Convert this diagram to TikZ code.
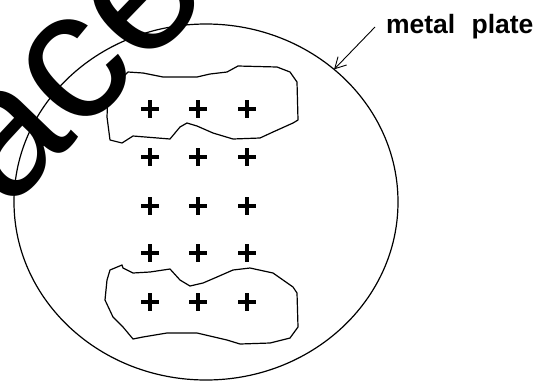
\documentclass[tikz,border=0pt]{standalone}
\usepackage{fontspec}
\setmainfont{Liberation Sans}
\usetikzlibrary{shapes.geometric,arrows.meta}
\tikzset{
  outline/.style={line width=1.2pt, black, line join=round},
  plusmark/.style={line width=3.5pt, black},
  wmark/.style={font=\fontsize{185}{185}\selectfont, inner sep=0pt, outer sep=0pt, rotate=46, anchor=base west},
  lbl/.style={font=\fontsize{26.5}{26.5}\selectfont\bfseries, inner sep=0pt, outer sep=0pt, anchor=base west}
}
\begin{document}
\begin{tikzpicture}[x=1pt,y=-1pt]
\useasboundingbox[fill=white] (0,0) rectangle (537,381);
% metal plate
\node[ellipse, draw, outline, minimum width=384pt, minimum height=356pt, inner sep=0pt, outer sep=0pt] (plate) at (206,202) {};
% upper charge region
\draw[outline] (128,72) -- (143,73) -- (163,77) -- (197,77) -- (210,74) -- (227,72) -- (238,66) -- (277,67) -- (290,72) -- (297,82) -- (298,120) -- (293,123) -- (273,132) -- (260,138) -- (233,139) -- (213,133) -- (197,126) -- (187,123) -- (180,127) -- (170,139) -- (133,136) -- (122,143) -- (110,140) -- (107,117) -- (108,92) -- (112,88) -- cycle;
% lower charge region
\draw[outline] (110,270) -- (122,265) -- (123,268) -- (133,273) -- (150,272) -- (170,269) -- (180,280) -- (190,286) -- (203,283) -- (217,277) -- (233,270) -- (250,268) -- (273,273) -- (293,287) -- (297,293) -- (298,327) -- (290,338) -- (270,343) -- (240,344) -- (227,340) -- (197,333) -- (167,333) -- (143,337) -- (133,339) -- (123,327) -- (113,317) -- (105,300) -- (107,280) -- cycle;
% plus charges
\foreach \yy in {109,157,206,253,302}{
  \foreach \xx in {150,198,247}{
    \draw[plusmark] (\xx-9,\yy) -- (\xx+9,\yy);
    \draw[plusmark] (\xx,\yy-9) -- (\xx,\yy+9);
  }
}
% label and arrow
\node[lbl] (label) at (386,33) {metal\hspace{0.62em}plate};
\coordinate (tail) at (375,27);
\draw[line width=0.9pt, -{Straight Barb[length=11pt,width=12pt]}] (tail) -- (plate.46);
% watermark
\node[wmark] (wm) at (7,211) {ace};
\end{tikzpicture}
\end{document}
